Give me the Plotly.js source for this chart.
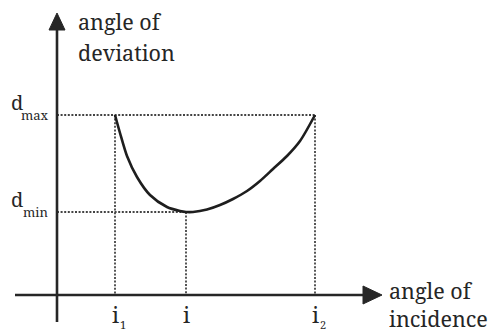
<!DOCTYPE html>
<html>
<head>
<meta charset="utf-8">
<script src="https://cdn.plot.ly/plotly-3.0.1.min.js"></script>
<style>
  html, body { margin: 0; padding: 0; background: #fff; }
  #chart { width: 492px; height: 334px; }
</style>
</head>
<body>
<div id="chart"></div>
<script>
// Angle of deviation through a prism against angle of incidence (schematic units)
const incidence = [58, 129, 258];          // i1, i (minimum deviation), i2
const incidenceLabels = ['i', 'i', 'i'];
const incidenceSubs = ['1', '', '2'];
const dMax = 180;
const dMin = 83;
const deviationLevels = [dMax, dMin];
const deviationSubs = ['max', 'min'];

// Deviation curve sampled along the incidence axis
const curveX = [58, 63, 70, 80, 93, 110, 123, 129, 136, 150, 163, 176, 190, 203, 216, 230, 243, 258];
const curveY = [180, 162, 139, 118, 100, 88, 84, 83, 83, 85.5, 90, 96, 104, 114, 126, 139, 154, 180];

const ink = '#262626';
const serif = "'Noto Serif', 'DejaVu Serif', serif";
const dotDash = '2px,1.6px';

const traces = [];

// Dotted guides: horizontal from the deviation axis, vertical down to the incidence axis
const guide = { color: '#444', width: 1.8, dash: dotDash };
traces.push({ x: [0, incidence[2]], y: [dMax, dMax], mode: 'lines', line: guide, hoverinfo: 'skip' });
traces.push({ x: [0, incidence[1]], y: [dMin, dMin], mode: 'lines', line: guide, hoverinfo: 'skip' });
traces.push({ x: [incidence[0], incidence[0]], y: [dMax, 0], mode: 'lines', line: guide, hoverinfo: 'skip' });
traces.push({ x: [incidence[1], incidence[1]], y: [dMin, 0], mode: 'lines', line: guide, hoverinfo: 'skip' });
traces.push({ x: [incidence[2], incidence[2]], y: [dMax, 0], mode: 'lines', line: guide, hoverinfo: 'skip' });

// Deviation curve
traces.push({ x: curveX, y: curveY, mode: 'lines',
  line: { color: '#1e1e1e', width: 2.6, shape: 'spline', smoothing: 0.8 }, hoverinfo: 'skip' });

const annotations = [];
function label(text, x, y, size, xanchor) {
  annotations.push({ text: text, x: x, y: y, xref: 'x', yref: 'y', showarrow: false,
    xanchor: xanchor || 'center', yanchor: 'middle', align: 'left',
    font: { family: serif, size: size, color: ink } });
}

// Axis titles
label('angle of', 19, 274, 21.5, 'left');
label('deviation', 19, 242.5, 21.5, 'left');
label('angle of<br>incidence', 330, -9, 21.5, 'left');

// Incidence markers
incidence.forEach((v, k) => {
  label(incidenceLabels[k], v, -18.5, 22);
  if (incidenceSubs[k]) label(incidenceSubs[k], v + 8, -29, 11);
});

// Deviation markers
deviationLevels.forEach((v, k) => {
  label('d', -40, v + 13, 20);
  label(deviationSubs[k], -22, v, 13);
});

const shapes = [
  // incidence axis
  { type: 'line', x0: -42, x1: 310, y0: 0, y1: 0, line: { color: ink, width: 2.6 } },
  { type: 'path', path: 'M 306 9 L 325 0 L 306 -9 Z', fillcolor: ink, line: { color: ink, width: 1 } },
  // deviation axis
  { type: 'line', x0: 0, x1: 0, y0: -27, y1: 268, line: { color: ink, width: 2.6 } },
  { type: 'path', path: 'M -8 265 L 0 282 L 8 265 Z', fillcolor: ink, line: { color: ink, width: 1 } }
];

const layout = {
  width: 492, height: 334,
  margin: { l: 0, r: 0, t: 0, b: 0 },
  paper_bgcolor: '#fff', plot_bgcolor: '#fff',
  showlegend: false,
  xaxis: { range: [-57, 435], visible: false, fixedrange: true },
  yaxis: { range: [-39, 295], visible: false, fixedrange: true },
  shapes: shapes,
  annotations: annotations
};

Plotly.newPlot('chart', traces, layout, { staticPlot: true, displayModeBar: false });
</script>
</body>
</html>
